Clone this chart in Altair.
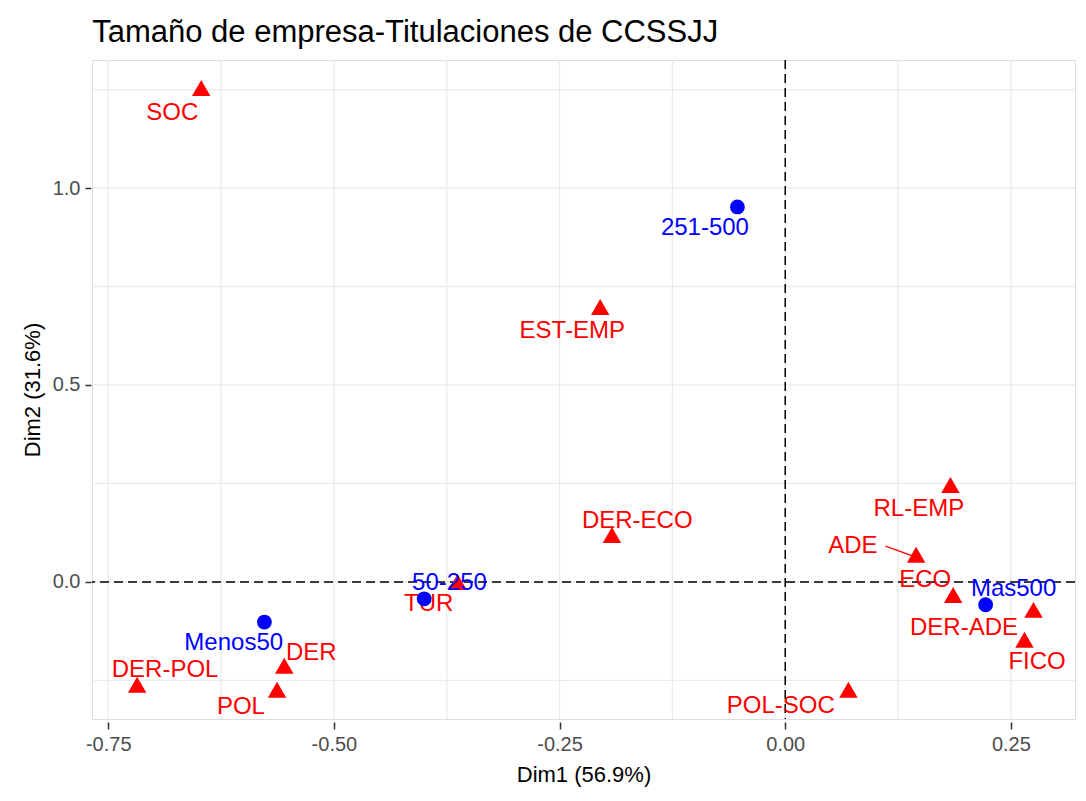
import altair as alt
import pandas as pd

# Row categories (titulaciones) - red triangles
rows = ["SOC", "EST-EMP", "DER-ECO", "TUR", "DER", "POL", "DER-POL", "POL-SOC",
        "RL-EMP", "ADE", "ECO", "DER-ADE", "FICO"]
row_x = [-0.647, -0.205, -0.192, -0.363, -0.555, -0.563, -0.718, 0.070,
         0.183, 0.145, 0.186, 0.275, 0.265]
row_y = [1.254, 0.698, 0.119, 0.000, -0.213, -0.274, -0.261, -0.274,
         0.246, 0.069, -0.033, -0.071, -0.147]
# repelled label positions (data units)
row_lx = [-0.679, -0.236, -0.164, -0.395, -0.525, -0.603, -0.687, -0.005,
          0.148, 0.075, 0.155, 0.198, 0.279]
row_ly = [1.190, 0.637, 0.155, -0.056, -0.180, -0.317, -0.223, -0.315,
          0.185, 0.091, 0.005, -0.117, -0.204]

# Column categories (tamaño de empresa) - blue circles
cols = ["251-500", "50-250", "Menos50", "Mas500"]
col_x = [-0.053, -0.400, -0.577, 0.222]
col_y = [0.952, -0.043, -0.102, -0.058]
col_lx = [-0.089, -0.372, -0.611, 0.253]
col_ly = [0.898, -0.003, -0.155, -0.018]

# connector segment of the ADE label
seg_x = [0.111]
seg_y = [0.091]
seg_x2 = [0.141]
seg_y2 = [0.066]

# axis ticks / grid
x_major = [-0.75, -0.50, -0.25, 0.00, 0.25]
x_grid = [-0.75, -0.625, -0.50, -0.375, -0.25, -0.125, 0.00, 0.125, 0.25]
y_major = [0.0, 0.5, 1.0]
y_grid = [-0.25, 0.0, 0.25, 0.5, 0.75, 1.0, 1.25]

x_dom = [-0.768, 0.321]
y_dom = [-0.348, 1.325]

FONT = "Liberation Sans"

row_df = pd.DataFrame({"name": rows, "x": row_x, "y": row_y, "lx": row_lx, "ly": row_ly})
col_df = pd.DataFrame({"name": cols, "x": col_x, "y": col_y, "lx": col_lx, "ly": col_ly})
seg_df = pd.DataFrame({"x": seg_x, "y": seg_y, "x2": seg_x2, "y2": seg_y2})
xg_df = pd.DataFrame({"v": x_grid})
yg_df = pd.DataFrame({"v": y_grid})
zero_df = pd.DataFrame({"v": [0.0]})

xs = alt.Scale(domain=x_dom, nice=False, zero=False)
ys = alt.Scale(domain=y_dom, nice=False, zero=False)

x_axis = alt.Axis(values=x_major, format=".2f", title="Dim1 (56.9%)", grid=False,
                  labelExpr="replace(datum.label, '\u2212', '-')",
                  domain=False, ticks=True, tickSize=7, tickWidth=1.5, tickColor="#333333",
                  offset=3, labelFontSize=20, labelColor="#4D4D4D", labelFont=FONT,
                  labelPadding=5, titleFont=FONT, titleFontSize=22, titleFontWeight="normal",
                  titleColor="#000000", titlePadding=10)
y_axis = alt.Axis(values=y_major, format=".1f", title="Dim2 (31.6%)", grid=False,
                  domain=False, ticks=True, tickSize=6, tickWidth=1.5, tickColor="#333333",
                  offset=1, labelFontSize=20, labelColor="#4D4D4D", labelFont=FONT,
                  labelPadding=5, titleFont=FONT, titleFontSize=22, titleFontWeight="normal",
                  titleColor="#000000", titlePadding=8)

vgrid = alt.Chart(xg_df).mark_rule(color="#EBEBEB", strokeWidth=1.3).encode(
    x=alt.X("v:Q", scale=xs, axis=x_axis))
hgrid = alt.Chart(yg_df).mark_rule(color="#EBEBEB", strokeWidth=1.3).encode(
    y=alt.Y("v:Q", scale=ys, axis=y_axis))

vzero = alt.Chart(zero_df).mark_rule(color="black", strokeWidth=1.5, strokeDash=[9, 5]).encode(
    x=alt.X("v:Q", scale=xs))
hzero = alt.Chart(zero_df).mark_rule(color="black", strokeWidth=1.5, strokeDash=[9, 5]).encode(
    y=alt.Y("v:Q", scale=ys))

row_pts = alt.Chart(row_df).mark_point(shape="triangle-up", filled=True, color="#FF0000",
                                       size=340, opacity=1).encode(
    x=alt.X("x:Q", scale=xs), y=alt.Y("y:Q", scale=ys))
row_txt = alt.Chart(row_df).mark_text(font=FONT, fontSize=24, color="#FF0000",
                                      align="center", baseline="middle").encode(
    x=alt.X("lx:Q", scale=xs), y=alt.Y("ly:Q", scale=ys), text="name:N")
seg = alt.Chart(seg_df).mark_rule(color="#FF0000", strokeWidth=1.3).encode(
    x=alt.X("x:Q", scale=xs), y=alt.Y("y:Q", scale=ys), x2="x2:Q", y2="y2:Q")
col_pts = alt.Chart(col_df).mark_point(shape="circle", filled=True, color="#0000FF",
                                       size=220, opacity=1).encode(
    x=alt.X("x:Q", scale=xs), y=alt.Y("y:Q", scale=ys))
col_txt = alt.Chart(col_df).mark_text(font=FONT, fontSize=24, color="#0000FF",
                                      align="center", baseline="middle").encode(
    x=alt.X("lx:Q", scale=xs), y=alt.Y("ly:Q", scale=ys), text="name:N")

chart = alt.layer(vgrid, hgrid, vzero, hzero, row_pts, seg, row_txt, col_pts, col_txt).properties(
    width=983, height=659,
    autosize=alt.AutoSizeParams(type="none"),
    padding={"left": 84, "top": 52, "right": 3, "bottom": 74},
    title=alt.TitleParams("Tamaño de empresa-Titulaciones de CCSSJJ", anchor="start",
                          font=FONT, fontSize=31, fontWeight="normal", color="#000000",
                          baseline="alphabetic", offset=17, dx=71, dy=31),
).configure_view(stroke=None).configure(background="white")

chart.save("out.html", embed_options={"renderer": "svg", "actions": False})
